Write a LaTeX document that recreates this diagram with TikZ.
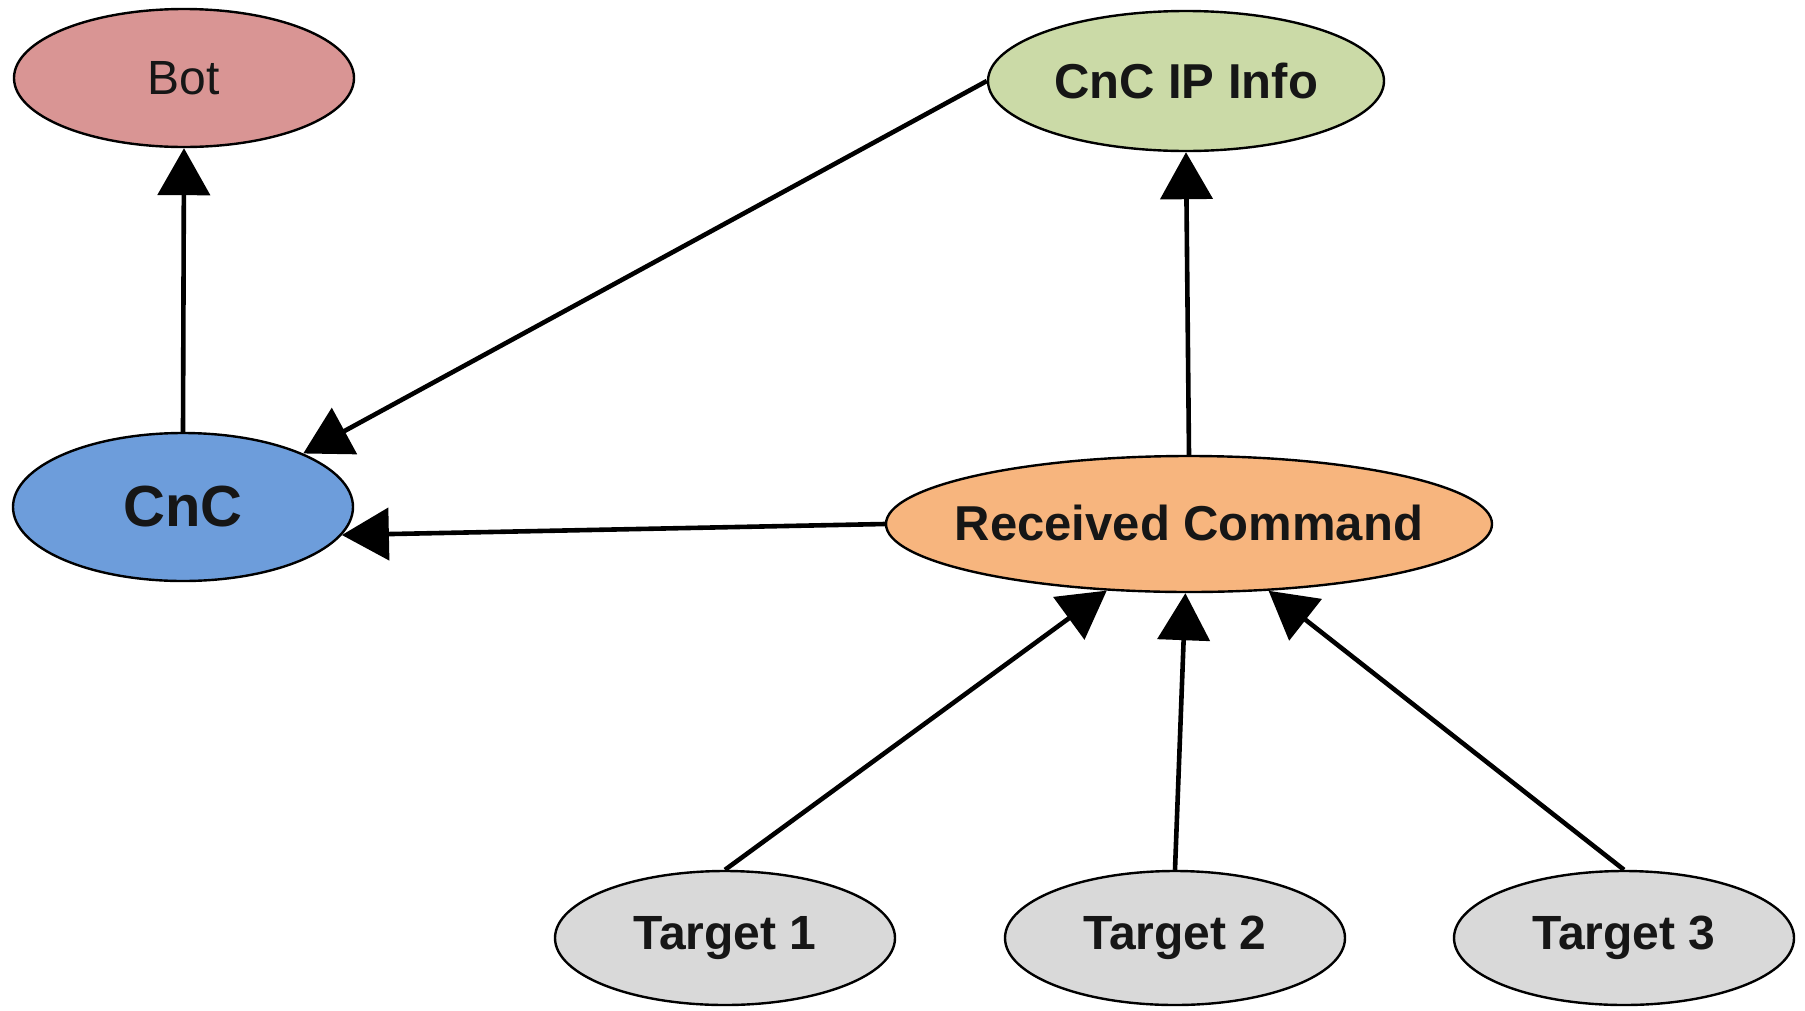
\documentclass[tikz,border=0pt]{standalone}
\usepackage{fontspec}
\setmainfont{Liberation Sans}
\usetikzlibrary{shapes.geometric,arrows.meta}
\definecolor{botfill}{HTML}{D99594}
\definecolor{ipfill}{HTML}{CBDAA7}
\definecolor{cncfill}{HTML}{6D9DDB}
\definecolor{rcfill}{HTML}{F7B57E}
\definecolor{tgfill}{HTML}{D9D9D9}
\definecolor{txt}{HTML}{161616}
\tikzset{
  ell/.style={ellipse, draw=black, line width=2.4pt, inner sep=0pt, text=txt,
    minimum width=340pt, minimum height=138pt},
  conn/.style={line width=4.6pt, -{Triangle[length=47pt,width=52pt]}}
}
\begin{document}
\begin{tikzpicture}[x=1pt,y=-1pt]
\useasboundingbox (0,0) rectangle (1805,1010);
\node[ell, fill=botfill] (bot) at (184,78) {\makebox[0pt]{\fontsize{48}{50}\selectfont Bot}};
\node[ell, fill=ipfill, minimum width=396pt, minimum height=140pt] (ip) at (1186,81) {\makebox[0pt]{\fontsize{49}{51}\selectfont\bfseries CnC IP Info}};
\node[ell, fill=cncfill, minimum height=148pt] (cnc) at (183,507) {\makebox[0pt]{\fontsize{58}{60}\selectfont\bfseries CnC}};
\node[ell, fill=rcfill, minimum width=606pt, minimum height=136pt] (rc) at (1189,524) {\makebox[0pt]{\raisebox{3pt}{\fontsize{49}{51}\selectfont\bfseries Received Command}}};
\node[ell, fill=tgfill, minimum height=134pt] (t1) at (725,938) {\makebox[0pt]{\fontsize{48}{50}\selectfont\bfseries Target 1}};
\node[ell, fill=tgfill, minimum height=134pt] (t2) at (1175,938) {\makebox[0pt]{\fontsize{48}{50}\selectfont\bfseries Target 2}};
\node[ell, fill=tgfill, minimum height=134pt] (t3) at (1624,938) {\makebox[0pt]{\fontsize{48}{50}\selectfont\bfseries Target 3}};
\draw[conn] (cnc.north) -- (bot.south);
\draw[conn] (ip.west) -- (cnc.24);
\draw[conn] (rc.north) -- (ip.south);
\draw[conn] (rc.west) -- (cnc.350);
\draw[conn] (t1.north) -- (rc.219);
\draw[conn] (t2.north) -- (rc.267);
\draw[conn] (t3.north) -- (rc.320);
\end{tikzpicture}
\end{document}
